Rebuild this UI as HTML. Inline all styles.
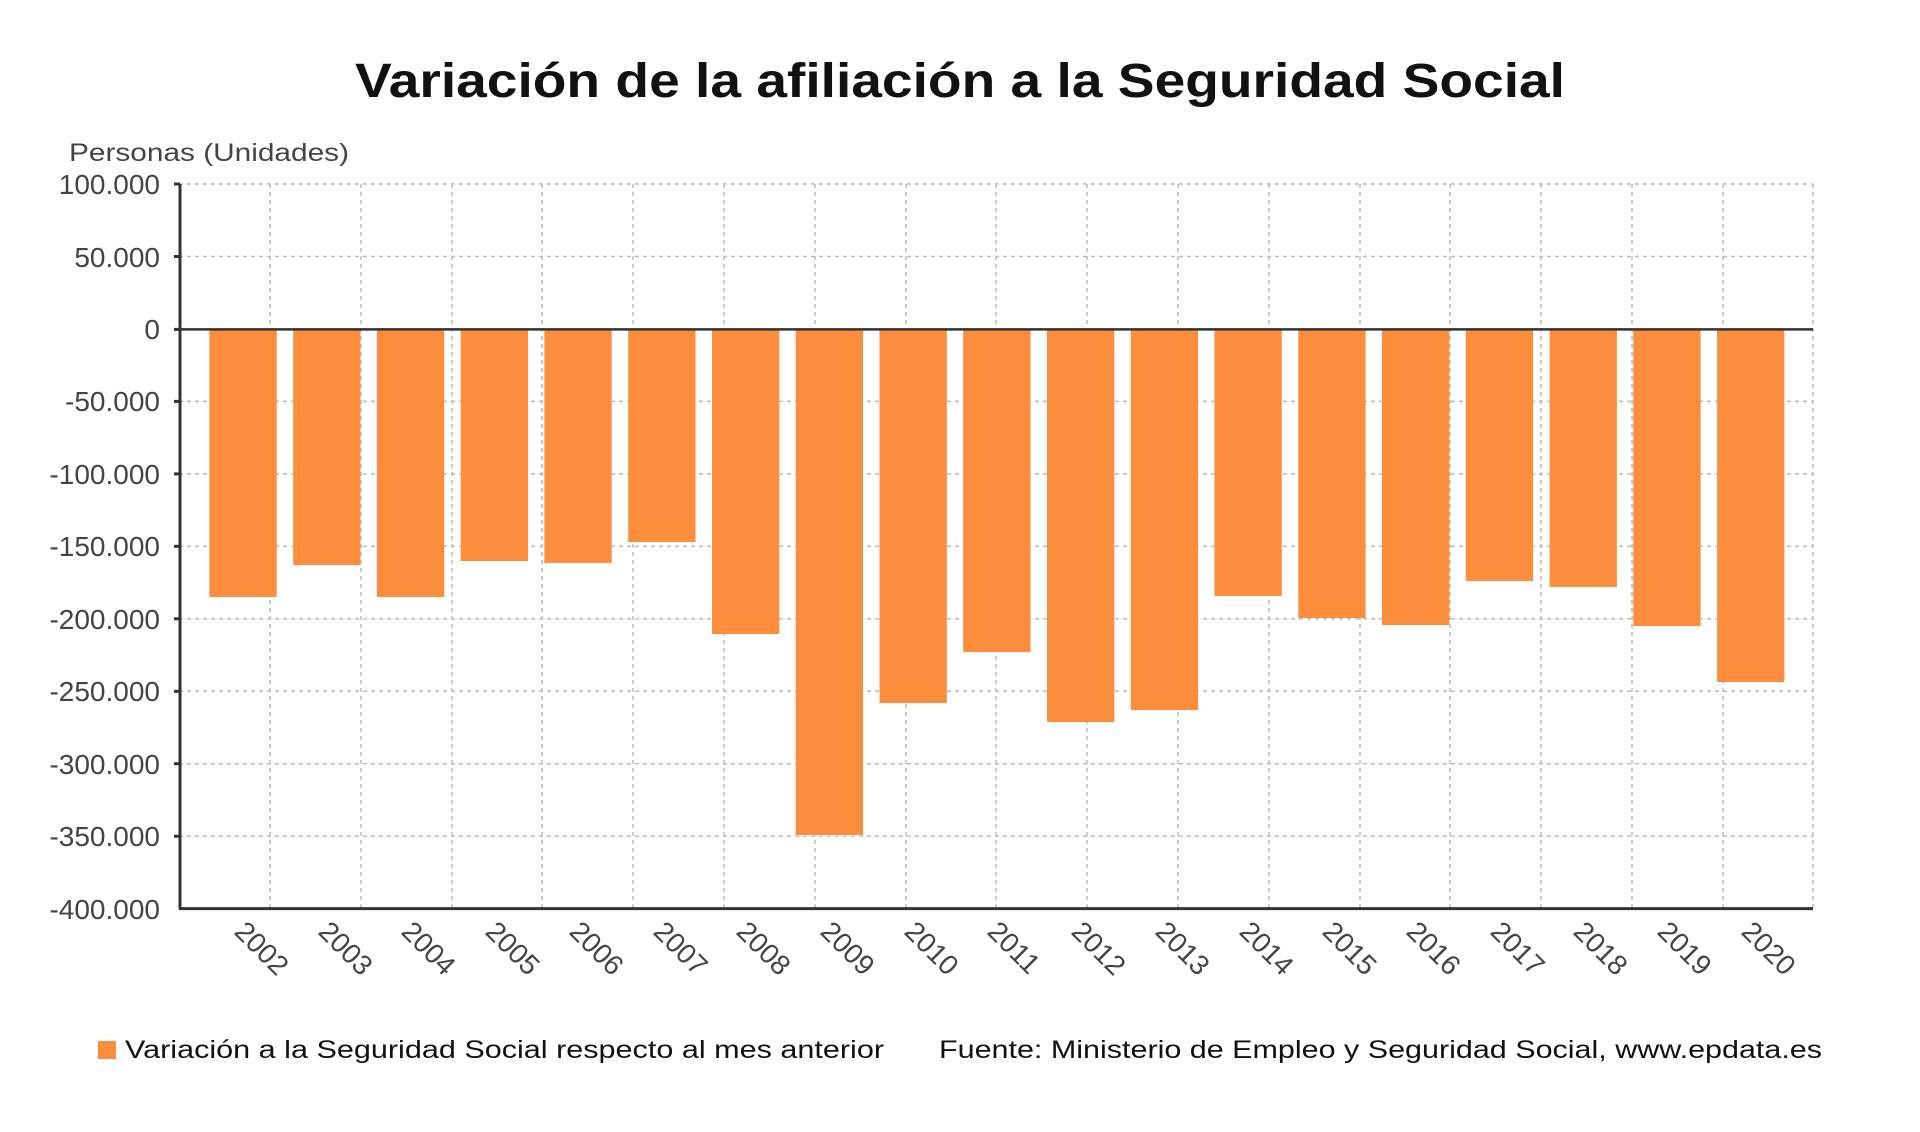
<!DOCTYPE html>
<html><head><meta charset="utf-8"><style>html,body{margin:0;padding:0;background:#fff}</style></head>
<body>
<svg xmlns="http://www.w3.org/2000/svg" width="1920" height="1127" viewBox="0 0 1920 1127" font-family="'Liberation Sans', 'DejaVu Sans', sans-serif">
<rect width="1920" height="1127" fill="#fff"/>
<text x="960" y="97" text-anchor="middle" font-size="48" font-weight="bold" fill="#111" textLength="1210" lengthAdjust="spacingAndGlyphs">Variación de la afiliación a la Seguridad Social</text>
<text x="69" y="161" font-size="25" fill="#444" textLength="280" lengthAdjust="spacingAndGlyphs">Personas (Unidades)</text>
<g stroke="#bbb" stroke-width="1.5" stroke-dasharray="4,4">
<line x1="179" x2="1813" y1="184" y2="184"/><line x1="179" x2="1813" y1="256.5" y2="256.5"/>
<line x1="179" x2="1813" y1="401.4" y2="401.4"/><line x1="179" x2="1813" y1="473.9" y2="473.9"/>
<line x1="179" x2="1813" y1="546.3" y2="546.3"/><line x1="179" x2="1813" y1="618.8" y2="618.8"/>
<line x1="179" x2="1813" y1="691.3" y2="691.3"/><line x1="179" x2="1813" y1="763.7" y2="763.7"/>
<line x1="179" x2="1813" y1="836.2" y2="836.2"/>
<line x1="270" x2="270" y1="184" y2="908"/><line x1="361" x2="361" y1="184" y2="908"/>
<line x1="452" x2="452" y1="184" y2="908"/><line x1="542" x2="542" y1="184" y2="908"/>
<line x1="633" x2="633" y1="184" y2="908"/><line x1="724" x2="724" y1="184" y2="908"/>
<line x1="815" x2="815" y1="184" y2="908"/><line x1="906" x2="906" y1="184" y2="908"/>
<line x1="996" x2="996" y1="184" y2="908"/><line x1="1087" x2="1087" y1="184" y2="908"/>
<line x1="1178" x2="1178" y1="184" y2="908"/><line x1="1269" x2="1269" y1="184" y2="908"/>
<line x1="1360" x2="1360" y1="184" y2="908"/><line x1="1450" x2="1450" y1="184" y2="908"/>
<line x1="1541" x2="1541" y1="184" y2="908"/><line x1="1632" x2="1632" y1="184" y2="908"/>
<line x1="1723" x2="1723" y1="184" y2="908"/><line x1="1813" x2="1813" y1="184" y2="908"/>
</g>
<g fill="#FB8D3D">
<rect x="209.4" y="329" width="67.3" height="268"/>
<rect x="293.2" y="329" width="67.3" height="236"/>
<rect x="376.9" y="329" width="67.3" height="268"/>
<rect x="460.7" y="329" width="67.3" height="232"/>
<rect x="544.4" y="329" width="67.3" height="234"/>
<rect x="628.2" y="329" width="67.3" height="213"/>
<rect x="712.0" y="329" width="67.3" height="305"/>
<rect x="795.7" y="329" width="67.3" height="506"/>
<rect x="879.5" y="329" width="67.3" height="374"/>
<rect x="963.2" y="329" width="67.3" height="323"/>
<rect x="1047.0" y="329" width="67.3" height="393"/>
<rect x="1130.8" y="329" width="67.3" height="381"/>
<rect x="1214.5" y="329" width="67.3" height="267"/>
<rect x="1298.3" y="329" width="67.3" height="289"/>
<rect x="1382.0" y="329" width="67.3" height="296"/>
<rect x="1465.8" y="329" width="67.3" height="252"/>
<rect x="1549.6" y="329" width="67.3" height="258"/>
<rect x="1633.3" y="329" width="67.3" height="297"/>
<rect x="1717.1" y="329" width="67.3" height="353"/>
</g>
<line x1="179" x2="1813" y1="329.4" y2="329.4" stroke="#333" stroke-width="2.5"/>
<line x1="180" x2="180" y1="184" y2="909" stroke="#333" stroke-width="3"/>
<line x1="179" x2="1813" y1="908.6" y2="908.6" stroke="#333" stroke-width="3"/>
<g stroke="#333" stroke-width="3">
<line x1="174" x2="180" y1="184" y2="184"/><line x1="174" x2="180" y1="256.5" y2="256.5"/>
<line x1="174" x2="180" y1="329.4" y2="329.4"/><line x1="174" x2="180" y1="401.4" y2="401.4"/>
<line x1="174" x2="180" y1="473.9" y2="473.9"/><line x1="174" x2="180" y1="546.3" y2="546.3"/>
<line x1="174" x2="180" y1="618.8" y2="618.8"/><line x1="174" x2="180" y1="691.3" y2="691.3"/>
<line x1="174" x2="180" y1="763.7" y2="763.7"/><line x1="174" x2="180" y1="836.2" y2="836.2"/>
</g>
<g font-size="28" fill="#444" text-anchor="end">
<text x="160" y="194">100.000</text><text x="160" y="267">50.000</text>
<text x="160" y="339">0</text><text x="160" y="411">-50.000</text>
<text x="160" y="484">-100.000</text><text x="160" y="556">-150.000</text>
<text x="160" y="629">-200.000</text><text x="160" y="701">-250.000</text>
<text x="160" y="774">-300.000</text><text x="160" y="846">-350.000</text>
<text x="160" y="919">-400.000</text>
</g>
<g font-size="28" fill="#444">
<text transform="translate(233,933) rotate(45)">2002</text>
<text transform="translate(317,933) rotate(45)">2003</text>
<text transform="translate(400,933) rotate(45)">2004</text>
<text transform="translate(484,933) rotate(45)">2005</text>
<text transform="translate(568,933) rotate(45)">2006</text>
<text transform="translate(652,933) rotate(45)">2007</text>
<text transform="translate(735,933) rotate(45)">2008</text>
<text transform="translate(819,933) rotate(45)">2009</text>
<text transform="translate(903,933) rotate(45)">2010</text>
<text transform="translate(986,933) rotate(45)">2011</text>
<text transform="translate(1070,933) rotate(45)">2012</text>
<text transform="translate(1154,933) rotate(45)">2013</text>
<text transform="translate(1238,933) rotate(45)">2014</text>
<text transform="translate(1321,933) rotate(45)">2015</text>
<text transform="translate(1405,933) rotate(45)">2016</text>
<text transform="translate(1489,933) rotate(45)">2017</text>
<text transform="translate(1572,933) rotate(45)">2018</text>
<text transform="translate(1656,933) rotate(45)">2019</text>
<text transform="translate(1740,933) rotate(45)">2020</text>
</g>
<rect x="98" y="1041" width="18" height="18" fill="#FB8D3D"/>
<text x="125" y="1058" font-size="25" fill="#111" textLength="759" lengthAdjust="spacingAndGlyphs">Variación a la Seguridad Social respecto al mes anterior</text>
<text x="939" y="1058" font-size="25" fill="#111" textLength="883" lengthAdjust="spacingAndGlyphs">Fuente: Ministerio de Empleo y Seguridad Social, www.epdata.es</text>
</svg>
</body></html>
